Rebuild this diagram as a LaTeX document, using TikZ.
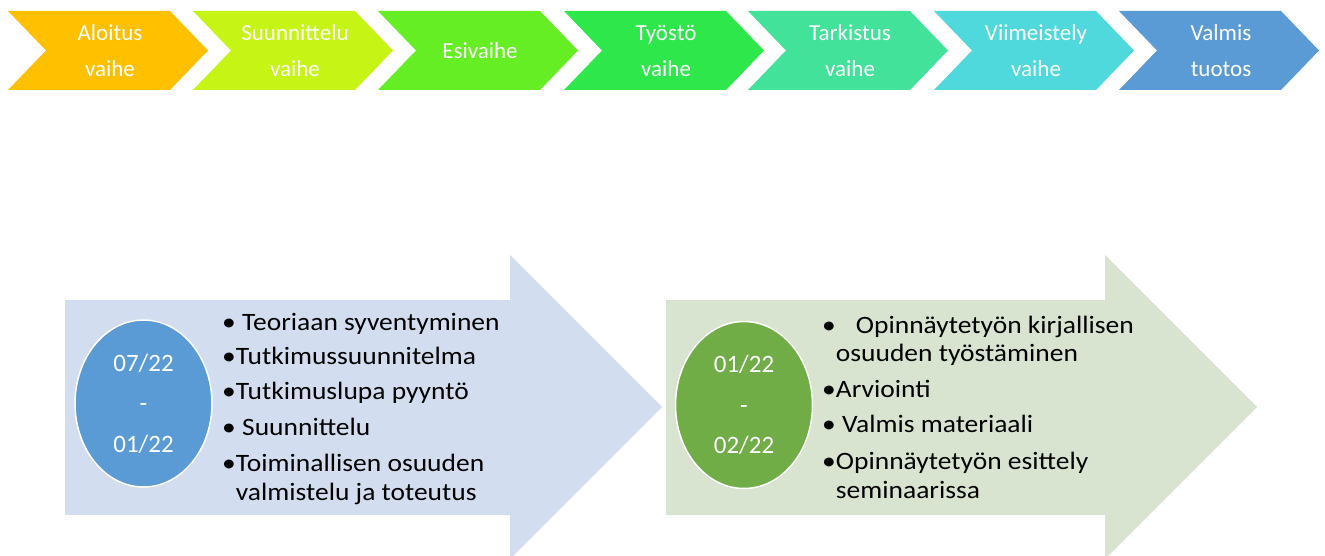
\documentclass[tikz,border=0pt]{standalone}
\usepackage{fontspec}
\setmainfont{Carlito}
\usepackage{xcolor}
\usepackage{tikz}
\usetikzlibrary{positioning, shapes.geometric}

\definecolor{phaseA}{HTML}{FFC000}
\definecolor{phaseB}{HTML}{C6F414}
\definecolor{phaseC}{HTML}{66EE24}
\definecolor{phaseD}{HTML}{2EE84B}
\definecolor{phaseE}{HTML}{42E29A}
\definecolor{phaseF}{HTML}{4FD9DC}
\definecolor{phaseG}{HTML}{5B9BD5}
\definecolor{panelA}{HTML}{D2DEEF}
\definecolor{panelB}{HTML}{D8E4D0}
\definecolor{dateA}{HTML}{5B9BD5}
\definecolor{dateB}{HTML}{70AD47}

\begin{document}
\begin{tikzpicture}[x=1pt, y=-1pt,
    phase/.style={text=white, align=center, font=\fontsize{23}{36}\selectfont},
    listline/.style={anchor=base west, inner sep=0pt, xscale=1.1, font=\fontsize{25}{30}\selectfont},
    period/.style={ellipse, draw=white, line width=1.5pt, minimum width=137pt, minimum height=167pt,
        inner sep=0pt, text=white, align=center, font=\fontsize{25}{40.5}\selectfont}]
\useasboundingbox (0,0) rectangle (1325,556);

\coordinate (C1) at (8,11);
\coordinate (C2) at (193,11);
\coordinate (C3) at (378,11);
\coordinate (C4) at (564,11);
\coordinate (C5) at (748,11);
\coordinate (C6) at (934,11);
\coordinate (C7) at (1119,11);
\fill[phaseA] (C1) -- ++(162,0) -- ++(38,39.5) -- ++(-38,39.5) -- ++(-162,0) -- ++(38,-39.5) -- cycle;
\fill[phaseB] (C2) -- ++(162,0) -- ++(38,39.5) -- ++(-38,39.5) -- ++(-162,0) -- ++(38,-39.5) -- cycle;
\fill[phaseC] (C3) -- ++(162,0) -- ++(38,39.5) -- ++(-38,39.5) -- ++(-162,0) -- ++(38,-39.5) -- cycle;
\fill[phaseD] (C4) -- ++(162,0) -- ++(38,39.5) -- ++(-38,39.5) -- ++(-162,0) -- ++(38,-39.5) -- cycle;
\fill[phaseE] (C5) -- ++(162,0) -- ++(38,39.5) -- ++(-38,39.5) -- ++(-162,0) -- ++(38,-39.5) -- cycle;
\fill[phaseF] (C6) -- ++(162,0) -- ++(38,39.5) -- ++(-38,39.5) -- ++(-162,0) -- ++(38,-39.5) -- cycle;
\fill[phaseG] (C7) -- ++(162,0) -- ++(38,39.5) -- ++(-38,39.5) -- ++(-162,0) -- ++(38,-39.5) -- cycle;
\node[phase] (p1) at ([shift={(102,39.5)}]C1) {Aloitus\\vaihe};
\node[phase] (p2) at ([shift={(102,39.5)}]C2) {Suunnittelu\\vaihe};
\node[phase] (p3) at ([shift={(102,39.5)}]C3) {Esivaihe};
\node[phase] (p4) at ([shift={(102,39.5)}]C4) {Työstö\\vaihe};
\node[phase] (p5) at ([shift={(102,39.5)}]C5) {Tarkistus\\vaihe};
\node[phase] (p6) at ([shift={(102,39.5)}]C6) {Viimeistely\\vaihe};
\node[phase] (p7) at ([shift={(102,39.5)}]C7) {Valmis\\tuotos};

\begin{scope}
\coordinate (A1) at (65,300);
\coordinate (A2) at (510,300);
\coordinate (A3) at (510,255);
\coordinate (A4) at (662,407);
\coordinate (A5) at (510,559);
\coordinate (A6) at (510,515);
\coordinate (A7) at (65,515);
\fill[panelA] (A1) -- (A2) -- (A3) -- (A4) -- (A5) -- (A6) -- (A7) -- cycle;
\node[period, fill=dateA] (dA) at (143.5,403.5) {07/22\\-\\01/22};
\node[listline] (la1) at (222,330) {• Teoriaan syventyminen};
\node[listline] (la2) at (222,364) {•Tutkimussuunnitelma};
\node[listline] (la3) at (222,399) {•Tutkimuslupa pyyntö};
\node[listline] (la4) at (222,435) {• Suunnittelu};
\node[listline] (la5) at (222,471) {•Toiminallisen osuuden};
\node[listline] (la6) at (222,500) {\phantom{•}valmistelu ja toteutus};
\end{scope}

\begin{scope}
\coordinate (B1) at (666,300);
\coordinate (B2) at (1105,300);
\coordinate (B3) at (1105,255);
\coordinate (B4) at (1257,407);
\coordinate (B5) at (1105,559);
\coordinate (B6) at (1105,515);
\coordinate (B7) at (666,515);
\fill[panelB] (B1) -- (B2) -- (B3) -- (B4) -- (B5) -- (B6) -- (B7) -- cycle;
\node[period, fill=dateB] (dB) at (744,405) {01/22\\-\\02/22};
\node[listline] (lb1) at (822,333) {•\hspace{0.5em} Opinnäytetyön kirjallisen};
\node[listline] (lb2) at (822,361) {\phantom{•}osuuden työstäminen};
\node[listline] (lb3) at (822,397) {•Arviointi};
\node[listline] (lb4) at (822,432) {• Valmis materiaali};
\node[listline] (lb5) at (822,469) {•Opinnäytetyön esittely};
\node[listline] (lb6) at (822,498) {\phantom{•}seminaarissa};
\end{scope}
\end{tikzpicture}
\end{document}
